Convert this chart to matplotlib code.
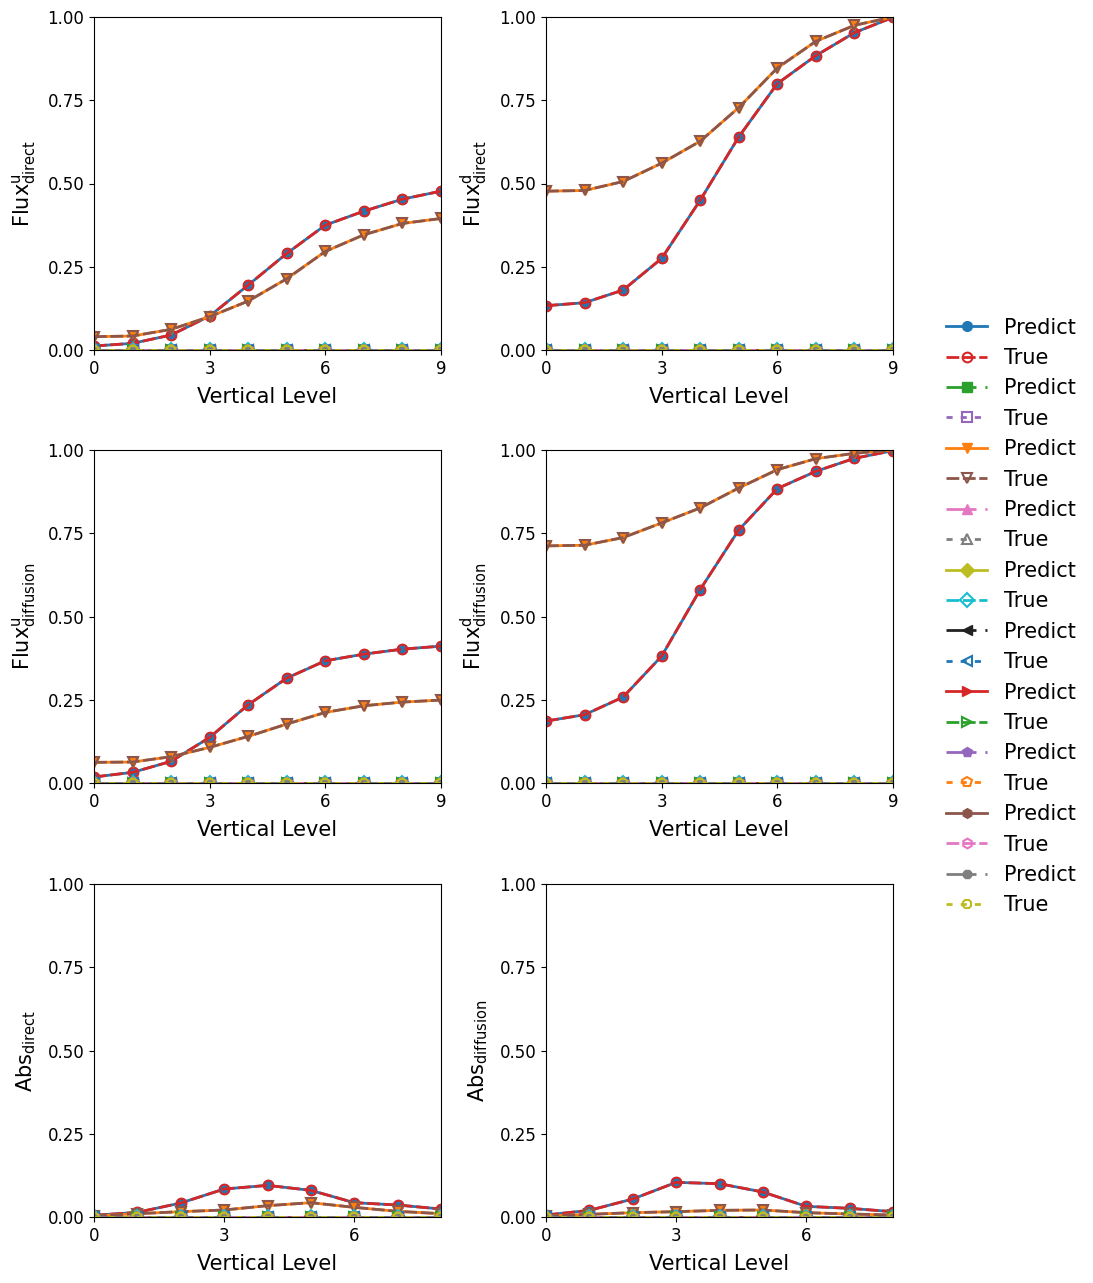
import matplotlib
matplotlib.use("Agg")
import matplotlib.pyplot as plt
import numpy as np

# ---------------- data ----------------
levels_flux = list(range(10))
levels_abs = list(range(9))

ylabels = [r"$\mathrm{Flux}^{\mathrm{u}}_{\mathrm{direct}}$",
           r"$\mathrm{Flux}^{\mathrm{d}}_{\mathrm{direct}}$",
           r"$\mathrm{Flux}^{\mathrm{u}}_{\mathrm{diffusion}}$",
           r"$\mathrm{Flux}^{\mathrm{d}}_{\mathrm{diffusion}}$",
           r"$\mathrm{Abs}_{\mathrm{direct}}$",
           r"$\mathrm{Abs}_{\mathrm{diffusion}}$"]

# pair 1 (circle) and pair 3 (triangle down) per panel; other pairs are ~0
flux_u_direct_1 = [0.012, 0.02, 0.045, 0.102, 0.195, 0.29, 0.375, 0.417, 0.453, 0.477]
flux_u_direct_3 = [0.04, 0.042, 0.062, 0.10, 0.147, 0.214, 0.296, 0.346, 0.38, 0.395]
flux_d_direct_1 = [0.133, 0.142, 0.18, 0.275, 0.45, 0.64, 0.80, 0.884, 0.953, 0.999]
flux_d_direct_3 = [0.477, 0.479, 0.506, 0.561, 0.627, 0.728, 0.847, 0.927, 0.975, 1.0]
flux_u_diff_1 = [0.018, 0.032, 0.065, 0.137, 0.235, 0.315, 0.367, 0.387, 0.402, 0.411]
flux_u_diff_3 = [0.062, 0.063, 0.079, 0.107, 0.14, 0.177, 0.212, 0.232, 0.243, 0.249]
flux_d_diff_1 = [0.186, 0.205, 0.258, 0.381, 0.581, 0.76, 0.884, 0.936, 0.975, 0.998]
flux_d_diff_3 = [0.712, 0.714, 0.737, 0.781, 0.826, 0.886, 0.941, 0.974, 0.99, 1.0]
abs_direct_1 = [0.005, 0.014, 0.042, 0.084, 0.095, 0.08, 0.043, 0.036, 0.024]
abs_direct_3 = [0.003, 0.01, 0.016, 0.021, 0.034, 0.043, 0.029, 0.017, 0.01]
abs_diff_1 = [0.006, 0.02, 0.054, 0.104, 0.1, 0.075, 0.032, 0.026, 0.016]
abs_diff_3 = [0.003, 0.008, 0.013, 0.016, 0.02, 0.021, 0.013, 0.009, 0.006]

panel_pair1 = [flux_u_direct_1, flux_d_direct_1, flux_u_diff_1, flux_d_diff_1, abs_direct_1, abs_diff_1]
panel_pair3 = [flux_u_direct_3, flux_d_direct_3, flux_u_diff_3, flux_d_diff_3, abs_direct_3, abs_diff_3]

yticks = [0.0, 0.25, 0.5, 0.75, 1.0]
xticks = [0, 3, 6, 9]

# styles of the 10 Predict/True pairs
pred_colors = ['C0', 'C2', 'C1', 'C6', 'C8', '#222222', 'C3', 'C4', 'C5', 'C7']
true_colors = ['C3', 'C4', 'C5', 'C7', 'C9', 'C0', 'C2', 'C1', 'C6', 'C8']
markers = ['o', 's', 'v', '^', 'D', '<', '>', 'p', 'h', '8']
DASHDOT = (0, (10.8, 3.2, 2.0, 3.2))
DOTTED = (0, (2.2, 2.9))
DASHED = (0, (4.6, 1.3))
pred_ls = ['-', DASHDOT] * 5
true_ls = [DASHED, DOTTED] * 5

# ---------------- figure ----------------
fig = plt.figure(figsize=(10.93, 12.83), dpi=100)
W, H = 1093, 1283
lefts = [94, 546]
tops = [17, 450, 884]
aw, ah = 347, 333

axes = []
handles = []
for i in range(6):
    r, c = divmod(i, 2)
    ax = fig.add_axes([lefts[c] / W, 1 - (tops[r] + ah) / H, aw / W, ah / H])
    axes.append(ax)
    x = levels_abs if r == 2 else levels_flux
    n = len(x)
    for k in range(10):
        if k == 0:
            vals = panel_pair1[i]
        elif k == 2:
            vals = panel_pair3[i]
        else:
            vals = [0.0] * n
        hp, = ax.plot(x, vals, color=pred_colors[k], linestyle=pred_ls[k], marker=markers[k],
                      lw=2, markersize=7, label='Predict')
        ht, = ax.plot(x, vals, color=true_colors[k], linestyle=true_ls[k], marker=markers[k],
                      lw=2, markersize=7, markerfacecolor='none', markeredgewidth=1.5,
                      label='True')
        if i == 0:
            handles += [hp, ht]
    ax.set_ylim(0, 1)
    ax.set_xlim(0, x[-1])
    ax.set_xticks([t for t in xticks if t <= x[-1]])
    ax.set_yticks(yticks)
    ax.set_yticklabels([f"{v:.2f}" for v in yticks])
    ax.tick_params(labelsize=12)
    ax.set_xlabel("Vertical Level", fontsize=15, labelpad=6.5)
    ax.set_ylabel(ylabels[i], fontsize=15, labelpad=6.5)

fig.legend(handles=handles, labels=[h.get_label() for h in handles],
           loc='center left', bbox_to_anchor=(927 / W, 1 - 616.5 / H),
           frameon=False, fontsize=15)

fig.savefig("out.png", dpi=100)
